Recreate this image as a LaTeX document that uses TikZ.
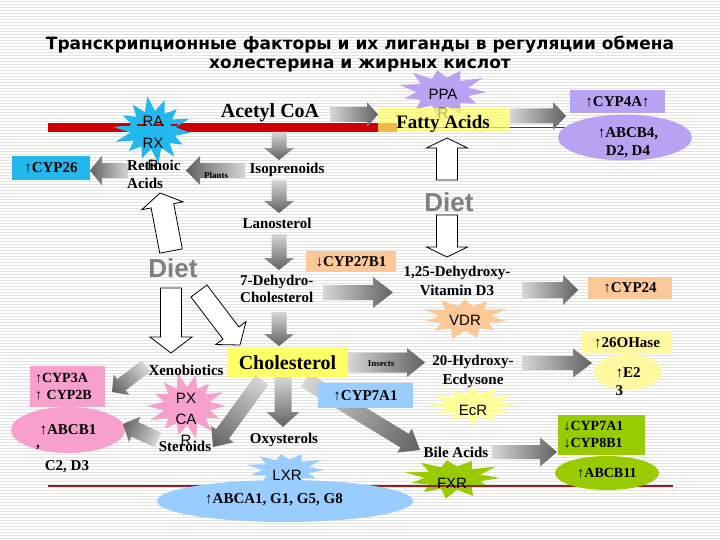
\documentclass[tikz,border=0pt]{standalone}
\usepackage{fontspec}
\setmainfont{Liberation Serif}
\newfontfamily\sansf{Liberation Sans}
\newfontfamily\titlef{DejaVu Sans}
\usetikzlibrary{calc,shapes.geometric}
\definecolor{cyanB}{HTML}{22B8EE}
\definecolor{lav}{HTML}{B9A2F2}
\definecolor{peach}{HTML}{FCC898}
\definecolor{lyell}{HTML}{FFFF99}
\definecolor{lyell2}{HTML}{FFF8A0}
\definecolor{yellowB}{HTML}{FFFF66}
\definecolor{lblue}{HTML}{99CCFF}
\definecolor{pinkB}{HTML}{F8A0CC}
\definecolor{greenB}{HTML}{99CC00}
\definecolor{redc}{HTML}{CC0000}
\definecolor{darkred}{HTML}{8B2525}
\definecolor{dietgray}{HTML}{808080}
\definecolor{stripec}{HTML}{E2E2E2}

\newcommand\blockarr[6]{%
  \path let \p1=(#2), \p2=(#3) in \pgfextra{%
    \pgfmathsetmacro\ArTmpAng{atan2(\y2-\y1,\x2-\x1)}%
    \pgfmathsetmacro\ArTmpLen{veclen(\x2-\x1,\y2-\y1)}%
    \xdef\ArAng{\ArTmpAng}\xdef\ArLen{\ArTmpLen}};
  \pgfmathsetmacro\ArHs{#4/2}\pgfmathsetmacro\ArHh{#5/2}\pgfmathsetmacro\ArBx{\ArLen-#6}%
  \path[#1,transform canvas={shift={(#2)},rotate=\ArAng}]
    (0pt,-\ArHs pt) -- (\ArBx pt,-\ArHs pt) -- (\ArBx pt,-\ArHh pt) -- (\ArLen pt,0pt)
    -- (\ArBx pt,\ArHh pt) -- (\ArBx pt,\ArHs pt) -- (0pt,\ArHs pt) -- cycle;}

\newcommand\burst[6]{%
  \pgfmathtruncatemacro\BuN{2*#5}\pgfmathtruncatemacro\BuM{2*#5-1}%
  \fill[#4, shift={(#1)}] plot[samples=\BuN, domain=0:\BuM, variable=\t]
   ({#2*(mod(round(\t),2)==0 ? 0.92+0.08*sin(\t*131) : 0.56)*cos(\t*180/#5+#6)},
    {#3*(mod(round(\t),2)==0 ? 0.92+0.08*sin(\t*131) : 0.56)*sin(\t*180/#5+#6)}) -- cycle;}

\begin{document}
\begin{tikzpicture}[x=1pt,y=-1pt,
  stripe/.style={stripec, line width=1.1pt},
  titlestyle/.style={font=\titlef\bfseries\fontsize{17}{20}\selectfont, inner sep=0pt},
  lab/.style={font=\bfseries\fontsize{15}{18}\selectfont, inner sep=0pt, align=center},
  labs/.style={font=\bfseries\fontsize{14}{17}\selectfont, inner sep=0pt, align=left},
  bigl/.style={font=\bfseries\fontsize{20}{22}\selectfont, inner sep=0pt},
  tinyl/.style={font=\bfseries\fontsize{9}{10}\selectfont, inner sep=0pt},
  sl/.style={font=\sansf\fontsize{15}{21}\selectfont, inner sep=0pt, align=center},
  dietf/.style={font=\sansf\bfseries\fontsize{26}{28}\selectfont, text=dietgray, inner sep=0pt},
  boxn/.style={inner sep=0pt, font=\bfseries\fontsize{15}{18}\selectfont, align=center},
  ell/.style={ellipse, inner sep=0pt},
  garr/.style={left color=black!16, right color=black!62, draw=none},
  harr/.style={fill=white, draw=black, line width=0.8pt}
]
\useasboundingbox (0,0) rectangle (720,540);
\fill[white] (0,0) rectangle (720,540);
\foreach \yy in {1.5,4.5,...,540} \draw[stripe] (0,\yy) -- (720,\yy);

% title
\node[titlestyle] (title1) at (360,45) {Транскрипционные факторы и их лиганды в регуляции обмена};
\node[titlestyle] (title2) at (360,66) {холестерина и жирных кислот};

% red lines
\coordinate (rb1) at (48,127.5); \coordinate (rb2) at (397,127.5); \coordinate (rb3) at (572,127.5);
\draw[redc, line width=9pt] (rb1) -- (rb2);
\draw[redc, line width=1pt] (rb2) -- (rb3);

% bursts
\coordinate (rarC) at (153,130); \burst{rarC}{41}{34}{cyanB}{14}{5}
\coordinate (pparC) at (443,92); \burst{pparC}{47}{26}{lav}{11}{0}
\coordinate (vdrC) at (465,318); \burst{vdrC}{46}{22}{peach}{11}{8}
\coordinate (ecrC) at (473,405); \burst{ecrC}{48}{20}{lyell}{12}{0}
\coordinate (fxrC) at (453,478); \burst{fxrC}{51}{21}{greenB}{11}{0}
\coordinate (lxrC) at (286,470); \burst{lxrC}{42}{19}{lblue}{11}{0}
\coordinate (pxrC) at (187,406); \burst{pxrC}{42}{34}{pinkB}{14}{0}

% red dashes on RAR star
\coordinate (rd1) at (120,125); \coordinate (rd2) at (178,125);
\draw[redc, line width=2.5pt, dash pattern=on 10pt off 7pt] (rd1) -- (rd2);

% bottom dark red line
\coordinate (bl1) at (48,486); \coordinate (bl2) at (673,486);
\draw[darkred, line width=1.2pt] (bl1) -- (bl2);

% PPAR text (under translucent box)
\node[sl, font=\sansf\fontsize{15}{19}\selectfont] (ppartxt) at (443,103.5) {PPA\\R};
\node[fill=yellowB, fill opacity=0.72, minimum width=132pt, minimum height=24pt, inner sep=0pt] (fabox) at (444,120) {};

% arrow behind blue box
\coordinate (a15s) at (305,380); \coordinate (a15e) at (420,450);
\blockarr{garr}{a15s}{a15e}{16}{28}{18}

% boxes and ellipses
\node[boxn, fill=cyanB, minimum width=78pt, minimum height=24pt] (cyp26) at (51,168) {↑CYP26};
\node[boxn, fill=lav, minimum width=95pt, minimum height=23pt] (cyp4a) at (617.5,101.5) {↑CYP4A↑};
\node[ell, fill=lav, minimum width=134pt, minimum height=46pt] (abcb4) at (625,137.5) {};
\node[boxn, fill=peach, minimum width=90pt, minimum height=21pt] (cyp27) at (351,261.5) {↓CYP27B1};
\node[boxn, fill=peach, minimum width=84pt, minimum height=22pt] (cyp24) at (630,288) {↑CYP24};
\node[boxn, fill=lyell2, minimum width=90pt, minimum height=23pt] (oh26) at (627,342.5) {↑26OHase};
\node[ell, fill=lyell2, minimum width=68pt, minimum height=36pt] (e23) at (628,372) {};
\node[boxn, fill=lblue, minimum width=95pt, minimum height=25pt] (cyp7b) at (365.5,395.5) {↑CYP7A1};
\node[boxn, fill=yellowB, minimum width=121pt, minimum height=29pt, font=\bfseries\fontsize{20}{22}\selectfont] (chol) at (287.5,362.5) {Cholesterol};
\node[labs, fill=greenB, minimum width=87pt, minimum height=40pt, text width=76pt] (cypg) at (601.5,435) {↓CYP7A1\\↓CYP8B1};
\node[ell, fill=greenB, minimum width=104pt, minimum height=34pt, font=\bfseries\fontsize{14}{17}\selectfont] (abcb11) at (607,473) {↑ABCB11};
\node[ell, fill=lblue, minimum width=256pt, minimum height=42pt] (abca1) at (285,501) {};
\node[labs, fill=pinkB, minimum width=75pt, minimum height=41pt, text width=65pt] (cyp3a) at (67.5,386.5) {↑CYP3A\\↑ CYP2B};
\node[ell, fill=pinkB, minimum width=114pt, minimum height=46pt, font=\bfseries\fontsize{15}{18}\selectfont] (abcb1) at (68,430) {↑ABCB1};

% gray arrows
\coordinate (a1s) at (128,170.5); \coordinate (a1e) at (90,170.5);
\blockarr{garr}{a1s}{a1e}{15}{30}{12}
\coordinate (a2s) at (245,170.5); \coordinate (a2e) at (186,170.5);
\blockarr{garr}{a2s}{a2e}{15}{29}{14}
\coordinate (a3s) at (330,114.5); \coordinate (a3e) at (378,114.5);
\blockarr{garr}{a3s}{a3e}{15}{25}{11}
\coordinate (a4s) at (510,116); \coordinate (a4e) at (566,116);
\blockarr{garr}{a4s}{a4e}{15}{28}{13}
\coordinate (a5s) at (279,132); \coordinate (a5e) at (279,160);
\blockarr{garr}{a5s}{a5e}{15}{30}{12}
\coordinate (a6s) at (279,180); \coordinate (a6e) at (279,213);
\blockarr{garr}{a6s}{a6e}{15}{30}{12}
\coordinate (a7s) at (279,234); \coordinate (a7e) at (279,270);
\blockarr{garr}{a7s}{a7e}{15}{30}{12}
\coordinate (a8s) at (279,312); \coordinate (a8e) at (279,346);
\blockarr{garr}{a8s}{a8e}{15}{30}{12}
\coordinate (a9s) at (323,292.5); \coordinate (a9e) at (393,292.5);
\blockarr{garr}{a9s}{a9e}{15}{31}{20}
\coordinate (a10s) at (522,290); \coordinate (a10e) at (578,290);
\blockarr{garr}{a10s}{a10e}{16}{30}{15}
\coordinate (a11s) at (348,362.5); \coordinate (a11e) at (425,362.5);
\blockarr{garr}{a11s}{a11e}{20}{29}{18}
\coordinate (a12s) at (522,363); \coordinate (a12e) at (592,363);
\blockarr{garr}{a12s}{a12e}{14}{29}{19}
\coordinate (a13s) at (283,377); \coordinate (a13e) at (283,427);
\blockarr{garr}{a13s}{a13e}{17}{33}{15}
\coordinate (a14s) at (262,380); \coordinate (a14e) at (213,447);
\blockarr{garr}{a14s}{a14e}{16}{28}{16}
\coordinate (a16s) at (492,452); \coordinate (a16e) at (557,452);
\blockarr{garr}{a16s}{a16e}{14}{29}{17}
\coordinate (a17s) at (146,366); \coordinate (a17e) at (112,392);
\blockarr{garr}{a17s}{a17e}{14}{26}{12}
\coordinate (a18s) at (158,440); \coordinate (a18e) at (123,424);
\blockarr{garr}{a18s}{a18e}{16}{28}{13}

% hollow arrows
\coordinate (h1s) at (171,251); \coordinate (h1e) at (160,193);
\blockarr{harr}{h1s}{h1e}{23}{42}{13}
\coordinate (h2s) at (171,288); \coordinate (h2e) at (171,353);
\blockarr{harr}{h2s}{h2e}{21}{42}{16}
\coordinate (h3s) at (199,291); \coordinate (h3e) at (240,345);
\blockarr{harr}{h3s}{h3e}{20}{38}{15}
\coordinate (h4s) at (447,180); \coordinate (h4e) at (447,138);
\blockarr{harr}{h4s}{h4e}{21}{41}{10}
\coordinate (h5s) at (447,215); \coordinate (h5e) at (447,257);
\blockarr{harr}{h5s}{h5e}{21}{41}{10}

% texts
\node[bigl] (acetyl) at (270,113) {Acetyl CoA};
\node[bigl, font=\bfseries\fontsize{19}{22}\selectfont] (fatty) at (443,124) {Fatty Acids};
\node[sl, font=\sansf\fontsize{15}{22}\selectfont] (rartxt) at (153,143) {RA\\RX\\R};
\node[lab, anchor=west, align=left] (retac) at (127,174) {Retinoic\\Acids};
\node[lab] (iso) at (287,170) {Isoprenoids};
\node[tinyl] (plants) at (216,175) {Plants};
\node[lab] (lano) at (277,223) {Lanosterol};
\node[lab, anchor=west, align=left, font=\bfseries\fontsize{15}{17}\selectfont] (dehydro) at (240,288.5) {7-Dehydro-\\Cholesterol};
\node[lab, font=\bfseries\fontsize{15}{19}\selectfont] (vitd) at (457,281) {1,25-Dehydroxy-\\Vitamin D3};
\node[sl] (vdrtxt) at (465,320) {VDR};
\node[dietf] (dietR) at (449,202) {Diet};
\node[dietf] (dietL) at (173,268) {Diet};
\node[tinyl] (insects) at (381,364) {Insects};
\node[lab, font=\bfseries\fontsize{15}{19}\selectfont] (hydroxy) at (473,371.5) {20-Hydroxy-\\Ecdysone};
\node[sl] (ecrtxt) at (473,410) {EcR};
\node[lab, align=left] (e23txt) at (628,382) {↑E2\\3};
\node[lab] (oxy) at (284,440) {Oxysterols};
\node[lab] (bile) at (456,452) {Bile Acids};
\node[sl] (fxrtxt) at (452,483) {FXR};
\node[sl] (lxrtxt) at (287,475) {LXR};
\node[lab] (abca1txt) at (274,500) {↑ABCA1, G1, G5, G8};
\node[lab] (abcb4txt) at (628,143) {↑ABCB4,\\D2, D4};
\node[lab] (xeno) at (186,370) {Xenobiotics};
\node[sl, font=\sansf\fontsize{15}{21}\selectfont] (pxrtxt) at (186,419) {PX\\CA\\R};
\node[lab] (steroids) at (185,446) {Steroids};
\node[lab] (comma) at (38,448) {,};
\node[lab] (c2d3) at (67,467) {C2, D3};
\end{tikzpicture}
\end{document}
